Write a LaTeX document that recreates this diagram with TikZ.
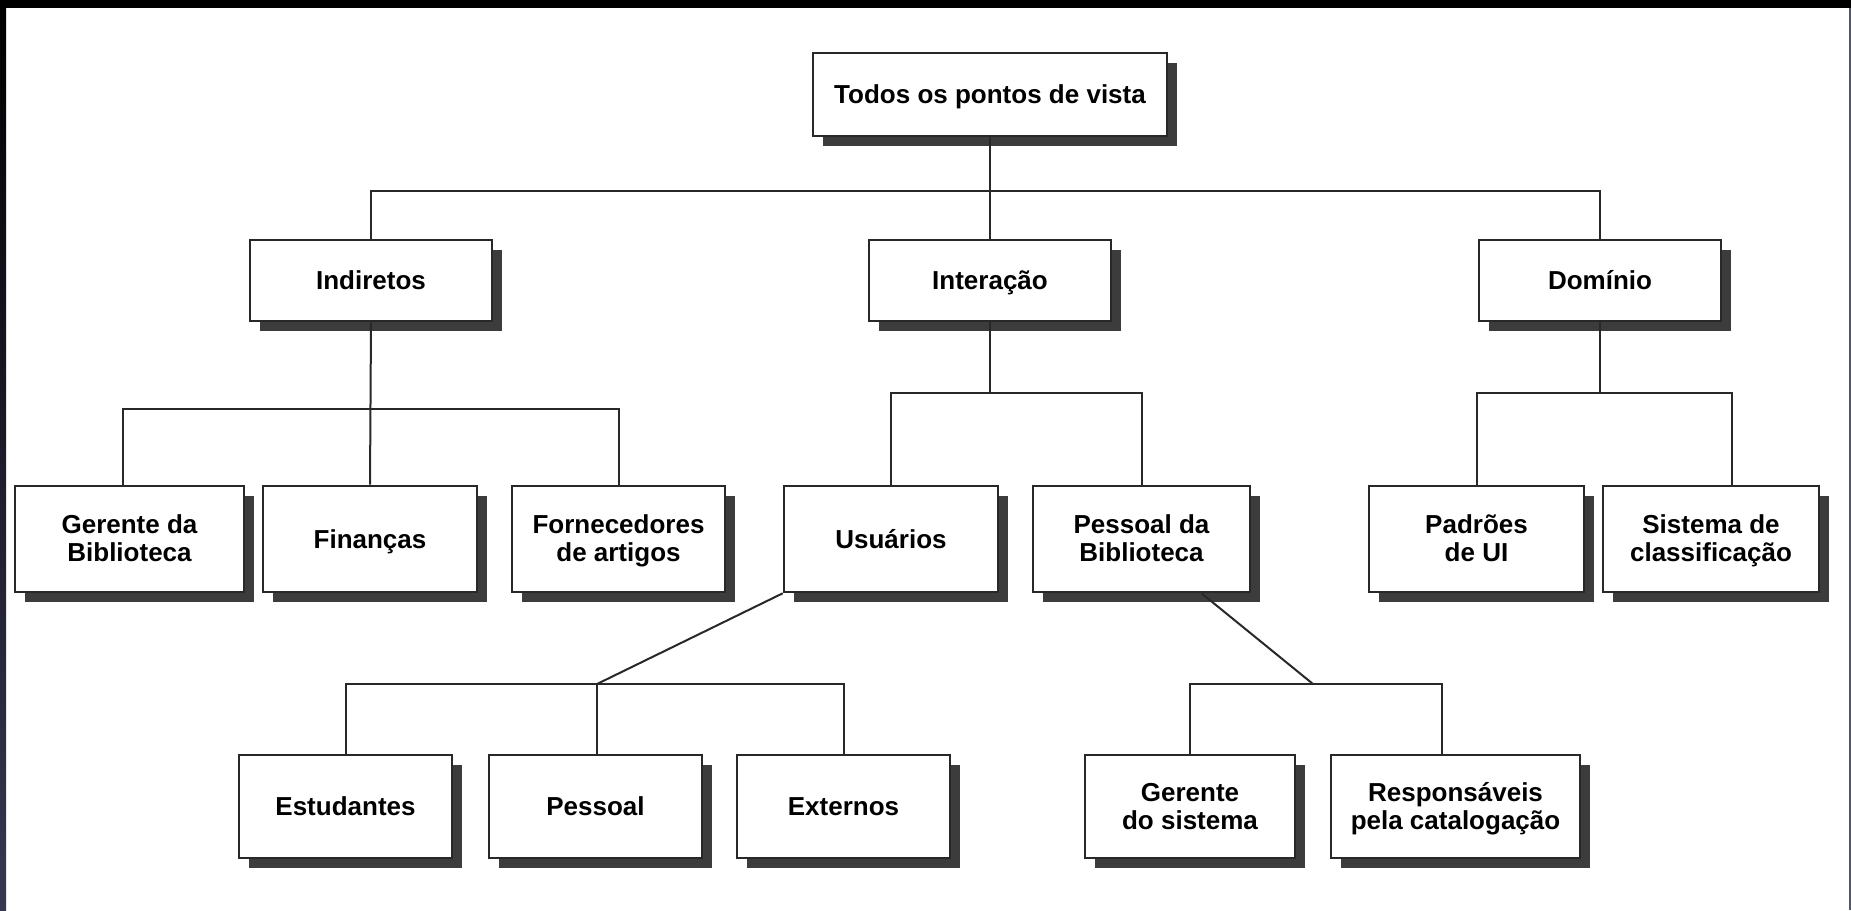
\documentclass[tikz,border=0pt]{standalone}
\usepackage{fontspec}
\setmainfont{Liberation Sans}
\usetikzlibrary{shadows}
\definecolor{shadowgray}{RGB}{60,60,60}
\definecolor{linegray}{RGB}{40,40,40}
\definecolor{navy}{RGB}{55,55,82}
\definecolor{rightgray}{RGB}{85,85,105}
\tikzset{
  box/.style 2 args={draw=linegray, line width=1.3pt, fill=white, align=center,
    minimum width={#1*0.5pt}, minimum height={#2*0.5pt}, inner sep=2pt,
    font=\fontsize{13}{14}\selectfont\bfseries,
    execute at begin node={\rule{0pt}{9.6pt}}, execute at end node={\rule[-0.5pt]{0pt}{0.5pt}},
    drop shadow={shadow xshift=5pt, shadow yshift=-5pt, opacity=1, fill=shadowgray}},
  conn/.style={draw=linegray, line width=1pt}
}
\begin{document}
\begin{tikzpicture}[x=0.5pt,y=-0.5pt]
\useasboundingbox (0,0) rectangle (1851,910);
\fill[white] (0,0) rectangle (1851,910);
\fill[black] (0,0) rectangle (1851,8);
\shade[top color=black, bottom color=navy] (0,0) rectangle (6,910);
\fill[rightgray] (1849,8) rectangle (1851,910);

% junction coordinates
\coordinate (j1) at (990,191);
\coordinate (j2) at (370,409);
\coordinate (j3) at (990,393);
\coordinate (j4) at (1600,393);
\coordinate (j5) at (597,684);
\coordinate (j6) at (1313,684);

% nodes
\node[box={354}{83}] (root) at (990,94.5) {\smash{Todos os pontos de vista}};

\node[box={242}{81}] (ind) at (371,280.5) {Indiretos};
\node[box={242}{81}] (int) at (990,280.5) {\smash{Interação}};
\node[box={242}{81}] (dom) at (1600,280.5) {Domínio};

\node[box={229}{106}] (ger) at (129.5,539) {Gerente da\\Biblioteca};
\node[box={214}{106}] (fin) at (370,539) {\smash{Finanças}};
\node[box={213}{106}] (forn) at (618.5,539) {Fornecedores\\\smash{de artigos}};
\node[box={214}{106}] (usu) at (891,539) {Usuários};
\node[box={217}{106}] (pbib) at (1141.5,539) {Pessoal da\\Biblioteca};
\node[box={215}{106}] (pad) at (1476.5,539) {Padrões\\de UI};
\node[box={216}{106}] (sis) at (1711,539) {Sistema de\\\smash{classificação}};

\node[box={213}{103}] (est) at (345.5,806.5) {Estudantes};
\node[box={213}{103}] (pes) at (595.5,806.5) {Pessoal};
\node[box={213}{103}] (ext) at (843.5,806.5) {Externos};
\node[box={210}{103}] (gsis) at (1190,806.5) {Gerente\\do sistema};
\node[box={249}{103}] (resp) at (1455.5,806.5) {Responsáveis\\\smash{pela catalogação}};

% connectors
\draw[conn] (root.south) -- (int.north);
\draw[conn] (ind.north) |- (j1) -| (dom.north);

\draw[conn] (ind.south) -- (fin.north);
\draw[conn] ([xshift=-3.25pt]ger.north) |- (j2) -| (forn.north);

\draw[conn] (int.south) -- (j3);
\draw[conn] (usu.north) |- (j3) -| (pbib.north);

\draw[conn] (dom.south) -- (j4);
\draw[conn] (pad.north) |- (j4) -| ([xshift=10.5pt]sis.north);

\draw[conn] (usu.south west) -- (j5);
\draw[conn] (est.north) |- (j5) -| (ext.north);
\draw[conn] (j5) -- (j5 |- pes.north);

\draw[conn] ([xshift=30pt]pbib.south) -- (j6);
\draw[conn] (gsis.north) |- (j6) -| ([xshift=-7pt]resp.north);
\end{tikzpicture}
\end{document}
